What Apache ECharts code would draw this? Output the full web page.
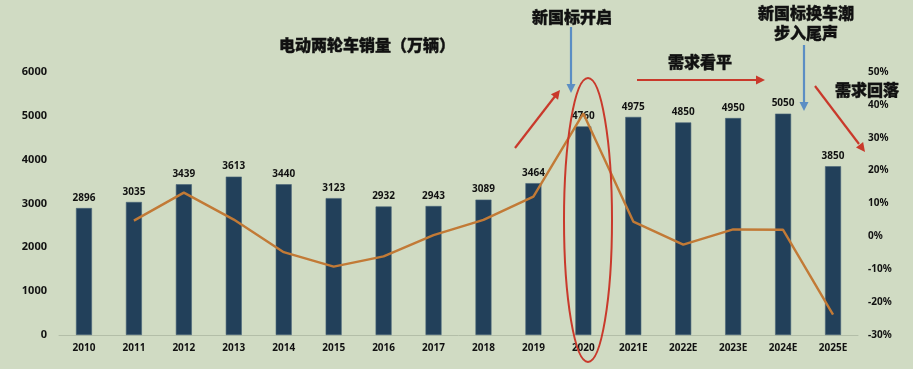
<!DOCTYPE html>
<html>
<head>
<meta charset="utf-8">
<script src="https://cdn.jsdelivr.net/npm/echarts@6/dist/echarts.min.js"></script>
<style>
html,body{margin:0;padding:0;background:#d0dbc3;}
#main{width:913px;height:369px;}
</style>
</head>
<body>
<div id="main"></div>
<script>
// 年份
var years = ['2010','2011','2012','2013','2014','2015','2016','2017','2018','2019','2020','2021E','2022E','2023E','2024E','2025E'];
// 销量(万辆)
var sales = [2896,3035,3439,3613,3440,3123,2932,2943,3089,3464,4760,4975,4850,4950,5050,3850];
// 同比增速(%)
var growth = ['-',4.8,13.3,5.1,-4.8,-9.2,-6.1,0.4,5.0,12.1,37.4,4.5,-2.5,2.1,2.0,-23.8];

var chart = echarts.init(document.getElementById('main'));
var cjk = '"Noto Sans CJK SC", sans-serif';
var num = '"Noto Sans", sans-serif';

function arrow(x1,y1,x2,y2,color){
	return {
		type:'line', shape:{x1:x1,y1:y1,x2:x2,y2:y2},
		style:{stroke:color,lineWidth:2.2}, z:10
	};
}
function head(x2,y2,x1,y1,color){
	var a = Math.atan2(y2-y1,x2-x1), L = 9, w = 4.5;
	var bx = x2 - L*Math.cos(a), by = y2 - L*Math.sin(a);
	return {
		type:'polygon',
		shape:{points:[[x2,y2],[bx + w*Math.sin(a), by - w*Math.cos(a)],[bx - w*Math.sin(a), by + w*Math.cos(a)]]},
		style:{fill:color}, z:10
	};
}
function txt(x,y,s,size){
	return {
		type:'text', x:x, y:y, z:11,
		style:{text:s, font:'900 '+size+'px '+cjk, fill:'#111', align:'center', verticalAlign:'middle',
			stroke:'#111', lineWidth:0.4}
	};
}
var red = '#c9392b', blue = '#5b8ec4';

var option = {
	backgroundColor:'#d0dbc3',
	animation:false,
	grid:{left:59,right:55,top:72,bottom:34},
	xAxis:[{
		type:'category',
		data:years,
		axisLine:{lineStyle:{color:'#b3bea8'}},
		axisTick:{show:false},
		axisLabel:{color:'#111',fontWeight:'bold',fontSize:10,fontFamily:num,margin:8}
	}],
	yAxis:[{
		type:'value', min:0, max:6000, interval:1000,
		splitLine:{show:false},
		axisLine:{show:false}, axisTick:{show:false},
		axisLabel:{color:'#111',fontWeight:'bold',fontSize:11,fontFamily:num,margin:12,
			formatter:function(v){return String(v);}}
	},{
		type:'value', min:-30, max:50, interval:10,
		splitLine:{show:false},
		axisLine:{show:false}, axisTick:{show:false},
		axisLabel:{color:'#111',fontWeight:'bold',fontSize:10,fontFamily:num,margin:10,formatter:'{value}%'}
	}],
	series:[{
		name:'销量',
		type:'bar',
		data:sales,
		barWidth:16,
		itemStyle:{color:'#22405a',borderColor:'#4a6478',borderWidth:0.6},
		label:{show:true,position:'top',distance:5,color:'#111',fontWeight:'bold',fontSize:10,fontFamily:num}
	},{
		name:'增速',
		type:'line',
		yAxisIndex:1,
		data:growth,
		symbol:'none',
		lineStyle:{color:'#c27a36',width:2.4},
		z:5
	}],
	graphic:[
		txt(367,45,'电动两轮车销量（万辆）',16),
		txt(572,17,'新国标开启',16),
		txt(806,13,'新国标换车潮',16),
		txt(806,33,'步入尾声',16),
		txt(700,62,'需求看平',16),
		txt(867,90,'需求回落',16),
		{
			type:'ellipse', shape:{cx:588,cy:220,rx:24,ry:142},
			style:{fill:null,stroke:red,lineWidth:2}, z:9
		},
		arrow(515,148,556,95,red), head(560,90,515,148,red),
		arrow(571,27,571,85,blue), head(571,93,571,27,blue),
		arrow(637,80,757,80,red), head(765,80,637,80,red),
		arrow(804,45,804,102,blue), head(804,111,804,45,blue),
		arrow(815,86,859,144,red), head(865,152,815,86,red)
	]
};
chart.setOption(option);
</script>
</body>
</html>
